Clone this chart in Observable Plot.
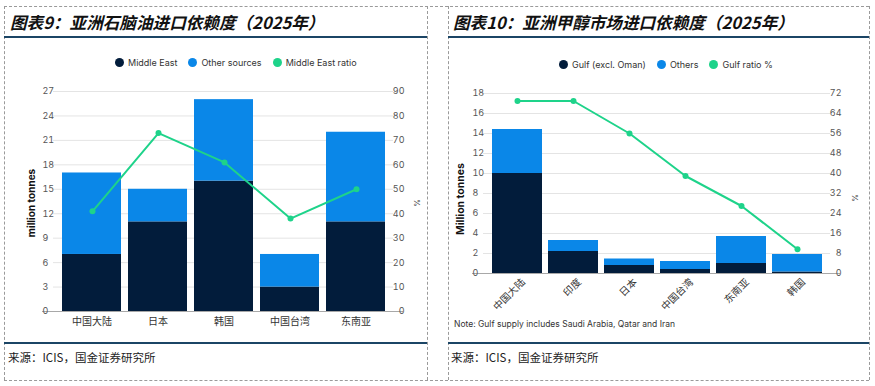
<!DOCTYPE html>
<html><head><meta charset="utf-8">
<script src="https://cdn.jsdelivr.net/npm/d3@7"></script>
<script src="https://cdn.jsdelivr.net/npm/@observablehq/plot@0.6"></script>
<style>
body{margin:0;width:875px;height:386px;position:relative;background:#fff;overflow:hidden;font-family:Inter,"Noto Sans",sans-serif}
.abs{position:absolute}
.title{font-family:"Noto Sans CJK SC",sans-serif;font-size:16.6px;font-weight:bold;font-style:italic;color:#111;white-space:nowrap;line-height:1}
.src{font-family:"Noto Sans CJK SC",sans-serif;font-size:11.5px;color:#222;white-space:nowrap;line-height:1}
.dash-h{border-top:1px dashed #9a9a9a;height:0}
.dash-v{border-left:1px dashed #9a9a9a;width:0}
.rule{background:#1b4565;height:2px}
.legend{font-size:9px;color:#333;white-space:nowrap;line-height:1;display:flex;align-items:center}
.legend span.d{display:inline-block;width:9px;height:9px;border-radius:50%;margin-right:4px}
.legend span.t{margin-right:11px}
.rot{transform:translate(-50%,-50%) rotate(-90deg);white-space:nowrap;line-height:1}
.rot90{transform:translate(-50%,-50%) rotate(90deg);white-space:nowrap;line-height:1}
.chart svg{display:block}
</style></head><body>
<script>
// ---------- data: chart 1 (naphtha) ----------
const regions1 = ["中国大陆", "日本", "韩国", "中国台湾", "东南亚"];
const middleEast = [7, 11, 16, 3, 11];
const otherSources = [10, 4, 10, 4, 11];
const middleEastRatio = [41, 73, 61, 38, 50];
const series1 = ["Middle East", "Other sources"];
const leftTicks1 = [0, 3, 6, 9, 12, 15, 18, 21, 24, 27];
const rightTicks1 = [0, 10, 20, 30, 40, 50, 60, 70, 80, 90];

// ---------- data: chart 2 (methanol) ----------
const regions2 = ["中国大陆", "印度", "日本", "中国台湾", "东南亚", "韩国"];
const gulf = [10, 2.2, 0.8, 0.4, 1.0, 0.15];
const others2 = [4.4, 1.1, 0.65, 0.8, 2.7, 1.75];
const gulfRatio = [69, 69, 56, 39, 27, 9.7];
const series2 = ["Gulf (excl. Oman)", "Others"];
const leftTicks2 = [0, 2, 4, 6, 8, 10, 12, 14, 16, 18];
const rightTicks2 = [0, 8, 16, 24, 32, 40, 48, 56, 64, 72];

const NAVY = "#021c3b", BLUE = "#0a87e8", GREEN = "#1ed38a";

function el(html, cls, style) {
  const d = document.createElement("div");
  d.className = cls; d.innerHTML = html;
  Object.assign(d.style, style);
  document.body.appendChild(d);
  return d;
}

// frame decorations
el("", "abs dash-h", {left: "4px", top: "6px", width: "865px"});
el("", "abs dash-h", {left: "4px", top: "380px", width: "865px"});
for (const x of [4, 427, 448, 869]) el("", "abs dash-v", {left: x + "px", top: "6px", height: "374px"});
for (const [x, w] of [[4, 423], [448, 421]]) {
  el("", "abs rule", {left: x + "px", top: "36px", width: w + "px"});
  el("", "abs rule", {left: x + "px", top: "342px", width: w + "px"});
}
el("图表9：亚洲石脑油进口依赖度（2025年）", "abs title", {left: "10px", top: "14px"});
el("图表10：亚洲甲醇市场进口依赖度（2025年）", "abs title", {left: "453px", top: "14px"});
el("来源：ICIS，国金证券研究所", "abs src", {left: "8px", top: "352px"});
el("来源：ICIS，国金证券研究所", "abs src", {left: "451px", top: "352px"});

function legend(items, left, top) {
  el(items.map(([c, t]) => `<span class="d" style="background:${c}"></span><span class="t">${t}</span>`).join(""),
     "abs legend", {left: left + "px", top: top + "px"});
}
legend([[NAVY, series1[0]], [BLUE, series1[1]], [GREEN, "Middle East ratio"]], 115, 58);
legend([[NAVY, series2[0]], [BLUE, series2[1]], [GREEN, "Gulf ratio %"]], 559, 60);

function makeChart(o) {
  const table = [];
  o.regions.forEach((r, i) => table.push({region: r, series: o.names[0], value: o.bottom[i]}));
  o.regions.forEach((r, i) => table.push({region: r, series: o.names[1], value: o.top[i]}));
  const ratio = o.regions.map((r, i) => ({region: r, ratio: o.ratio[i]}));
  const common = {
    width: o.width, height: o.height,
    marginLeft: o.ml, marginRight: o.mr, marginTop: o.mt, marginBottom: o.mb,
    style: {fontFamily: 'Inter,"Noto Sans",sans-serif', fontSize: "9px", background: "transparent", overflow: "visible"}
  };
  const xOpt = {domain: o.regions, paddingInner: o.pi, paddingOuter: o.po, axis: null};
  const A = Plot.plot({
    ...common,
    x: xOpt,
    y: {domain: [0, o.leftTicks[o.leftTicks.length - 1]], axis: null},
    color: {domain: o.names, range: [NAVY, BLUE]},
    marks: [
      Plot.gridY(o.leftTicks, {stroke: "#e4e4e4", strokeOpacity: 1, insetLeft: -4, insetRight: -3}),
      Plot.barY(table, {x: "region", y: "value", fill: "series", order: o.names}),
      Plot.ruleY([0], {stroke: "#a8a8a8", strokeWidth: 1.2, insetLeft: -15, insetRight: -13}),
      Plot.axisY(o.leftTicks, {label: null, tickSize: 0, tickPadding: 0, textAnchor: "start", dx: -15, fill: "#555", fontSize: 9}),
      o.rotate
        ? Plot.axisX({label: null, tickSize: 0, tickPadding: 7, tickRotate: -45, dx: 6, fill: "#333", fontSize: 10, fontFamily: '"Noto Sans CJK SC",sans-serif'})
        : Plot.axisX({label: null, tickSize: 0, tickPadding: 6, fill: "#333", fontSize: 10, fontFamily: '"Noto Sans CJK SC",sans-serif'})
    ]
  });
  const B = Plot.plot({
    ...common,
    x: xOpt,
    y: {domain: [0, o.rightTicks[o.rightTicks.length - 1]], axis: null},
    marks: [
      Plot.line(ratio, {x: "region", y: "ratio", stroke: GREEN, strokeWidth: 2}),
      Plot.dot(ratio, {x: "region", y: "ratio", fill: GREEN, r: 3}),
      Plot.axisY(o.rightTicks, {label: null, anchor: "right", tickSize: 0, tickPadding: 0, textAnchor: "end", dx: 14, fill: "#555", fontSize: 9})
    ]
  });
  for (const svg of [A, B]) {
    const w = document.createElement("div");
    w.className = "abs chart";
    w.style.left = o.left + "px"; w.style.top = o.topPx + "px";
    w.appendChild(svg);
    document.body.appendChild(w);
  }
}

makeChart({regions: regions1, bottom: middleEast, top: otherSources, ratio: middleEastRatio, names: series1,
  leftTicks: leftTicks1, rightTicks: rightTicks1, left: 4, topPx: 75, width: 423, height: 255,
  ml: 53, mr: 37, mt: 16, mb: 19, pi: 0.11, po: 0.055, rotate: false});
makeChart({regions: regions2, bottom: gulf, top: others2, ratio: gulfRatio, names: series2,
  leftTicks: leftTicks2, rightTicks: rightTicks2, left: 448, topPx: 75, width: 421, height: 245,
  ml: 39, mr: 42, mt: 18, mb: 47, pi: 0.1, po: 0.05, rotate: true});

// axis titles
el("million tonnes", "abs rot", {left: "31px", top: "203px", fontSize: "10px", fontWeight: "bold", color: "#111"});
el("Million tonnes", "abs rot", {left: "461px", top: "199px", fontSize: "10.5px", fontWeight: "bold", color: "#111"});
el("%", "abs rot90", {left: "417px", top: "203px", fontSize: "8px", color: "#444"});
el("%", "abs rot90", {left: "855px", top: "198px", fontSize: "8px", color: "#444"});
el("Note: Gulf supply includes Saudi Arabia, Qatar and Iran", "abs", {left: "454px", top: "320px", fontSize: "8.5px", color: "#333", whiteSpace: "nowrap", lineHeight: "1"});
</script>
</body></html>
